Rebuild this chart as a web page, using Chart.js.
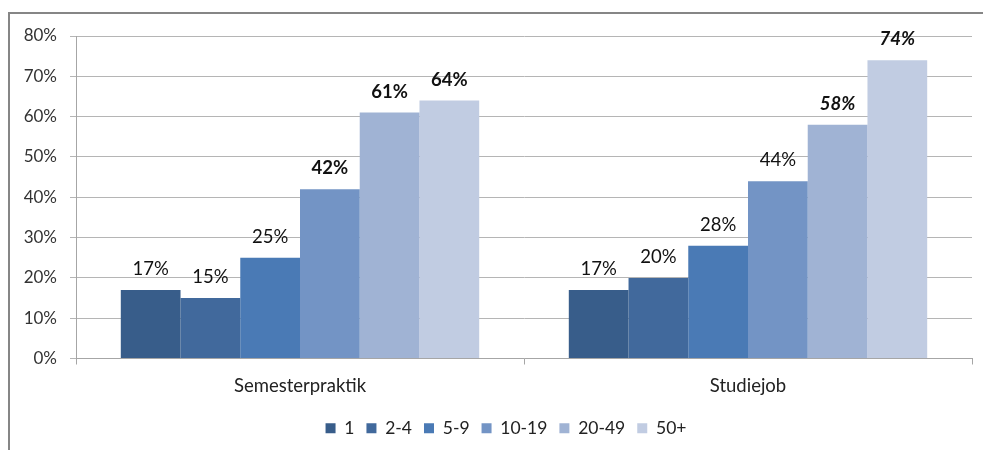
<!DOCTYPE html>
<html>
<head>
<meta charset="utf-8">
<script src="https://cdn.jsdelivr.net/npm/chart.js@4.4.0/dist/chart.umd.min.js"></script>
<style>
  html, body { margin: 0; padding: 0; background: #fff; overflow: hidden; }
  #wrap { position: relative; width: 983px; height: 450px; }
  #frame { position: absolute; left: 8px; top: 12px; width: 1100px; height: 600px; border: 2px solid #868686; box-sizing: border-box; pointer-events: none; }
  canvas { position: absolute; left: 0; top: 0; }
</style>
</head>
<body>
<div id="wrap">
  <canvas id="chart" width="983" height="450"></canvas>
  <div id="frame"></div>
</div>
<script>
// categories and series (percent)
const categories = ['Semesterpraktik', 'Studiejob'];
const seriesNames = ['1', '2-4', '5-9', '10-19', '20-49', '50+'];
const v1     = [17, 17];
const v2_4   = [15, 20];
const v5_9   = [25, 28];
const v10_19 = [42, 44];
const v20_49 = [61, 58];
const v50    = [64, 74];
const yMax = 80;
const yStep = 10;

const colors = ['#385d8a', '#41699c', '#4a7ab5', '#7394c5', '#a0b3d4', '#c1cce2'];
// font style of the value labels, per series / category
const labelStyle = [
    ['normal', 'normal'],
    ['normal', 'normal'],
    ['normal', 'normal'],
    ['bold', 'normal'],
    ['bold', 'italic bold'],
    ['bold', 'italic bold']
];

const FONT = 'Lato, "Open Sans", sans-serif';

const barLabels = {
    id: 'barLabels',
    afterDatasetsDraw(chart) {
        const ctx = chart.ctx;
        ctx.save();
        ctx.textAlign = 'center';
        ctx.textBaseline = 'alphabetic';
        ctx.fillStyle = '#111';
        chart.data.datasets.forEach((ds, i) => {
            chart.getDatasetMeta(i).data.forEach((bar, j) => {
                ctx.font = labelStyle[i][j] + ' 18.5px ' + FONT;
                ctx.fillText(ds.data[j] + '%', bar.x, bar.y - 15);
            });
        });
        ctx.restore();
    }
};

// nudge the centred legend a bit to the right, as in the original
const legendShift = {
    id: 'legendShift',
    afterLayout(chart) {
        if (chart.legend) chart.legend.left += 40;
    }
};

const allSeries = [v1, v2_4, v5_9, v10_19, v20_49, v50];

new Chart(document.getElementById('chart').getContext('2d'), {
    type: 'bar',
    data: {
        labels: categories,
        datasets: allSeries.map((d, i) => ({
            label: seriesNames[i],
            data: d,
            backgroundColor: colors[i],
            borderWidth: 0,
            categoryPercentage: 0.8,
            barPercentage: 1.0
        }))
    },
    options: {
        responsive: false,
        animation: false,
        devicePixelRatio: 1,
        layout: { padding: { left: 0, right: 11, top: 36, bottom: 3 } },
        plugins: {
            legend: {
                position: 'bottom',
                labels: {
                    boxWidth: 10,
                    boxHeight: 10,
                    padding: 12,
                    color: '#222',
                    font: { family: FONT, size: 17.5 }
                }
            },
            tooltip: { enabled: false }
        },
        scales: {
            x: {
                grid: {
                    display: true,
                    drawOnChartArea: false,
                    drawTicks: true,
                    tickLength: 6,
                    offset: true,
                    color: '#a6a6a6',
                    tickColor: '#a6a6a6'
                },
                border: { color: '#a6a6a6', width: 1 },
                ticks: {
                    padding: 10,
                    color: '#222',
                    font: { family: FONT, size: 18.5 }
                },
                afterFit(scale) { scale.height = 49; }
            },
            y: {
                min: 0,
                max: yMax,
                ticks: {
                    stepSize: yStep,
                    padding: 13,
                    color: '#333',
                    font: { family: FONT, size: 17 },
                    callback: v => v + '%'
                },
                grid: {
                    color: '#b5b5b5',
                    tickColor: '#b5b5b5',
                    tickLength: 6
                },
                border: { color: '#a6a6a6', width: 1 },
                afterFit(scale) { scale.width = 76; }
            }
        }
    },
    plugins: [barLabels, legendShift]
});
</script>
</body>
</html>
